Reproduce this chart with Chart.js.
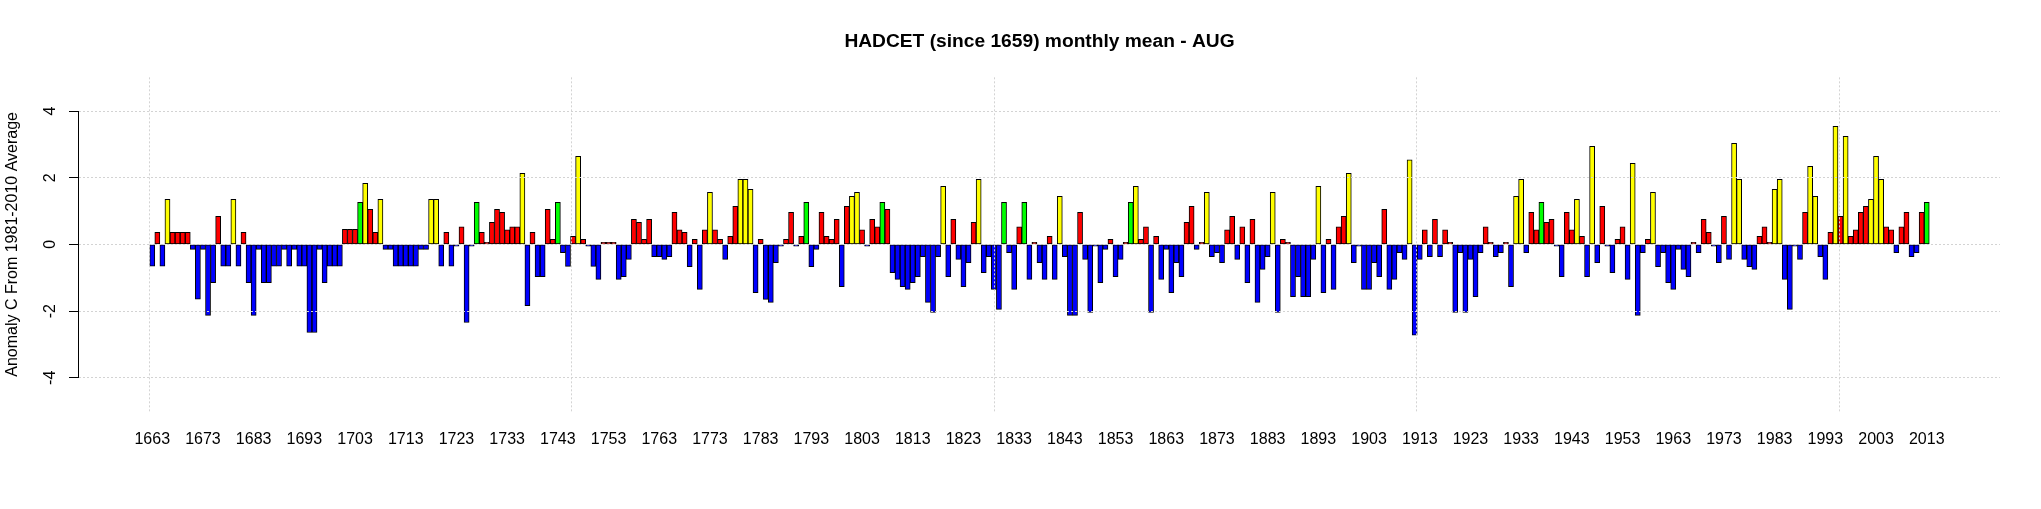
<!DOCTYPE html>
<html>
<head>
<meta charset="utf-8">
<script src="https://cdn.jsdelivr.net/npm/chart.js@4.4.1/dist/chart.umd.min.js"></script>
<style>
html, body { margin: 0; padding: 0; background: #fff; }
canvas { display: block; }
</style>
</head>
<body>
<canvas id="chart" width="2041" height="509"></canvas>
<script>
"use strict";

// August anomalies (C, vs 1981-2010), one bar per year from 1663
const firstYear = 1663;
const anomalies = [
  -0.65, 0.36, -0.65, 1.35, 0.36, 0.36, 0.36, 0.36, -0.15, -1.64,
  -0.15, -2.13, -1.15, 0.84, -0.65, -0.65, 1.35, -0.65, 0.36, -1.15,
  -2.13, -0.15, -1.15, -1.15, -0.65, -0.65, -0.15, -0.65, -0.15, -0.65,
  -0.65, -2.64, -2.64, -0.15, -1.15, -0.65, -0.65, -0.65, 0.45, 0.45,
  0.45, 1.26, 1.83, 1.05, 0.36, 1.35, -0.15, -0.15, -0.65, -0.65,
  -0.65, -0.65, -0.65, -0.15, -0.15, 1.35, 1.35, -0.65, 0.36, -0.65,
  -0.05, 0.53, -2.34, -0.05, 1.26, 0.36, 0.06, 0.66, 1.05, 0.96,
  0.44, 0.53, 0.53, 2.13, -1.84, 0.36, -0.97, -0.97, 1.05, 0.15,
  1.26, -0.25, -0.66, 0.24, 2.64, 0.15, -0.05, -0.66, -1.05, 0.06,
  0.06, 0.06, -1.05, -0.97, -0.45, 0.75, 0.66, 0.15, 0.75, -0.37,
  -0.37, -0.45, -0.37, 0.96, 0.44, 0.36, -0.67, 0.15, -1.35, 0.44,
  1.56, 0.44, 0.15, -0.45, 0.24, 1.14, 1.95, 1.95, 1.65, -1.45,
  0.15, -1.65, -1.74, -0.55, -0.05, 0.15, 0.96, -0.05, 0.24, 1.26,
  -0.67, -0.15, 0.96, 0.24, 0.15, 0.75, -1.27, 1.14, 1.44, 1.56,
  0.44, -0.05, 0.75, 0.53, 1.26, 1.05, -0.85, -1.05, -1.27, -1.35,
  -1.15, -0.97, -0.37, -1.74, -2.04, -0.37, 1.74, -0.97, 0.75, -0.45,
  -1.27, -0.55, 0.66, 1.95, -0.85, -0.37, -1.35, -1.95, 1.26, -0.25,
  -1.35, 0.53, 1.26, -1.05, 0.06, -0.55, -1.05, 0.24, -1.05, 1.44,
  -0.37, -2.13, -2.13, 0.96, -0.45, -2.04, -0.05, -1.15, -0.15, 0.15,
  -0.97, -0.45, 0.06, 1.26, 1.74, 0.15, 0.53, -2.04, 0.24, -1.05,
  -0.15, -1.45, -0.55, -0.97, 0.66, 1.14, -0.15, 0.06, 1.56, -0.37,
  -0.25, -0.55, 0.44, 0.84, -0.45, 0.53, -1.15, 0.75, -1.74, -0.75,
  -0.37, 1.56, -2.04, 0.15, 0.06, -1.57, -0.97, -1.57, -1.57, -0.45,
  1.74, -1.45, 0.15, -1.35, 0.53, 0.84, 2.13, -0.55, -0.05, -1.35,
  -1.35, -0.55, -0.97, 1.05, -1.35, -1.05, -0.25, -0.45, 2.54, -2.72,
  -0.45, 0.44, -0.37, 0.75, -0.37, 0.44, 0.06, -2.04, -0.25, -2.04,
  -0.45, -1.57, -0.25, 0.53, 0.06, -0.37, -0.25, 0.06, -1.27, 1.44,
  1.95, -0.25, 0.96, 0.44, 1.26, 0.66, 0.75, -0.05, -0.97, 0.96,
  0.44, 1.35, 0.24, -0.97, 2.94, -0.55, 1.14, -0.05, -0.85, 0.15,
  0.53, -1.05, 2.43, -2.13, -0.25, 0.15, 1.56, -0.67, -0.25, -1.15,
  -1.35, -0.15, -0.75, -0.97, 0.06, -0.25, 0.75, 0.36, -0.05, -0.55,
  0.84, -0.45, 3.03, 1.95, -0.45, -0.67, -0.75, 0.24, 0.53, 0.06,
  1.65, 1.95, -1.05, -1.95, -0.05, -0.45, 0.96, 2.34, 1.44, -0.37,
  -1.05, 0.36, 3.54, 0.84, 3.24, 0.24, 0.44, 0.96, 1.14, 1.35,
  2.64, 1.95, 0.53, 0.44, -0.25, 0.53, 0.96, -0.37, -0.25, 0.96,
  1.26
];
const years = anomalies.map((v, i) => firstYear + i);
const tickYears = [
  1663, 1673, 1683, 1693, 1703, 1713, 1723, 1733, 1743, 1753, 1763, 1773,
  1783, 1793, 1803, 1813, 1823, 1833, 1843, 1853, 1863, 1873, 1883, 1893,
  1903, 1913, 1923, 1933, 1943, 1953, 1963, 1973, 1983, 1993, 2003, 2013
];
const yTicks = [-4, -2, 0, 2, 4];
const gridAt = [0, 100, 200, 300, 400]; // vertical grid, in bar units

// bar layout like R barplot: width 1, space 0.2
const step = 1.2;
const barX = i => 0.7 + step * i;
const span = step * years.length - 0.2;
const xMin = 0.2 - 0.04 * span;
const xMax = step * years.length + 0.04 * span;

function barColour(v) {
    if (v < 0) return "#0000FF";
    if (v < 1.2) return "#FF0000";
    if (v < 1.3) return "#00FF00";
    return "#FFFF00";
}

// y axis line only between the outer ticks, as R draws it
const axisLine = {
    id: 'axisLine',
    afterDraw(chart) {
        const ctx = chart.ctx;
        const ys = chart.scales.y;
        const x = Math.round(chart.chartArea.left) - 0.5;
        ctx.save();
        ctx.strokeStyle = "#000";
        ctx.lineWidth = 1;
        ctx.beginPath();
        ctx.moveTo(x, ys.getPixelForValue(yTicks[yTicks.length - 1]));
        ctx.lineTo(x, ys.getPixelForValue(yTicks[0]));
        ctx.stroke();
        ctx.restore();
    }
};

Chart.defaults.font.family = "'Liberation Sans', Arial, sans-serif";
Chart.defaults.color = "#000";

const font16 = { size: 16, lineHeight: 1.2 };

new Chart(document.getElementById("chart").getContext("2d"), {
    type: 'bar',
    data: {
        datasets: [{
            data: anomalies.map((v, i) => ({ x: barX(i), y: v })),
            backgroundColor: anomalies.map(barColour),
            borderColor: "#000",
            borderWidth: 1,
            borderSkipped: false,
            barPercentage: 1,
            categoryPercentage: 1
        }]
    },
    options: {
        responsive: false,
        animation: false,
        devicePixelRatio: 1,
        layout: { padding: { left: 0, right: 41, top: 0, bottom: 0 } },
        plugins: {
            legend: { display: false },
            tooltip: { enabled: false },
            title: {
                display: true,
                fullSize: false,
                text: "HADCET (since 1659) monthly mean - AUG",
                color: "#000",
                font: { size: 19.2, weight: 'bold', lineHeight: 1.2 },
                padding: { top: 30.5, bottom: 23.8 }
            }
        },
        scales: {
            x: {
                type: 'linear',
                min: xMin,
                max: xMax,
                offset: false,
                grid: { display: false, drawTicks: false, offset: false },
                border: { display: false },
                afterBuildTicks: s => { s.ticks = tickYears.map(y => ({ value: barX(years.indexOf(y)) })); },
                afterFit: s => { s.height = 97.5; },
                ticks: {
                    autoSkip: false,
                    maxRotation: 0,
                    padding: 18.9,
                    font: font16,
                    callback: (v, i) => String(tickYears[i])
                }
            },
            xg: {
                type: 'linear',
                position: 'bottom',
                min: xMin,
                max: xMax,
                offset: false,
                afterBuildTicks: s => { s.ticks = gridAt.map(v => ({ value: v })); },
                ticks: { display: false },
                grid: { color: "#d3d3d3", drawTicks: false, offset: false, z: 1 },
                border: { display: false, dash: [2, 2] }
            },
            y: {
                min: -5.01,
                max: 5.01,
                afterBuildTicks: s => { s.ticks = yTicks.map(v => ({ value: v })); },
                afterFit: s => { s.width = 79; },
                ticks: {
                    minRotation: 90,
                    maxRotation: 90,
                    crossAlign: 'center',
                    padding: 11,
                    font: font16,
                    callback: v => String(v)
                },
                grid: { color: "#d3d3d3", tickColor: "#000", tickLength: 10, tickWidth: 1, z: 1 },
                border: { display: false, dash: [2, 2] },
                title: {
                    display: true,
                    text: "Anomaly C From 1981-2010 Average",
                    font: font16,
                    padding: { top: 2.5, bottom: 0 }
                }
            }
        }
    },
    plugins: [axisLine]
});
</script>
</body>
</html>
